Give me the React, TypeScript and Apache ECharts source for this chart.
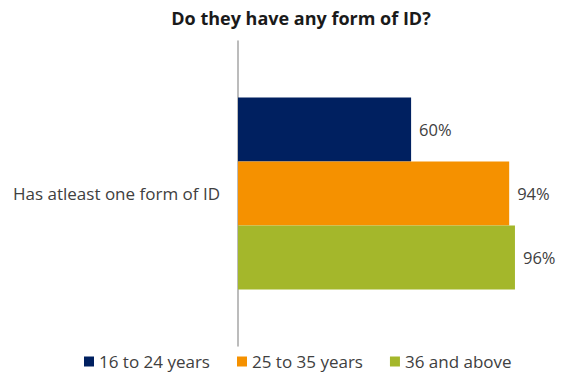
import React, { useEffect, useRef } from "react";
import * as echarts from "echarts";

const titleText = "Do they have any form of ID?";
const categories = ["Has atleast one form of ID"];
const seriesNames = ["16 to 24 years", "25 to 35 years", "36 and above"];
const values16to24 = [60];
const values25to35 = [94];
const values36plus = [96];
const seriesColors = ["#002060", "#F59100", "#A4B72B"];

const FONT = "'Open Sans', 'Noto Sans', sans-serif";

export default function App() {
  const ref = useRef<HTMLDivElement>(null);
  useEffect(() => {
    if (!ref.current) return;
    const chart = echarts.init(ref.current, undefined, { renderer: "svg" });
    const allValues = [values16to24, values25to35, values36plus];
    const series = seriesNames.map((name, i) => ({
      name,
      type: "bar" as const,
      data: allValues[i],
      barWidth: 64,
      barGap: "0%",
      itemStyle: { color: seriesColors[i] },
      label: {
        show: true,
        position: "right" as const,
        distance: 8,
        formatter: "{c}%",
        color: "#404040",
        fontSize: 16.5,
        fontFamily: FONT,
      },
    }));
    chart.setOption({
      animation: false,
      textStyle: { fontFamily: FONT },
      graphic: [
        {
          type: "text",
          x: 301,
          y: 18,
          style: {
            text: titleText,
            fill: "#1a1a1a",
            font: `bold 18px ${FONT}`,
            textAlign: "center",
            textVerticalAlign: "middle",
          },
        },
      ],
      legend: {
        data: seriesNames,
        left: 79,
        top: 348,
        icon: "rect",
        itemWidth: 10,
        itemHeight: 10,
        itemGap: 27,
        textStyle: { color: "#404040", fontSize: 17, fontFamily: FONT },
      },
      grid: { left: 238, right: 46.5, top: 41, bottom: 28, containLabel: false },
      xAxis: {
        type: "value",
        min: 0,
        max: 100,
        show: false,
      },
      yAxis: {
        type: "category",
        data: categories,
        inverse: true,
        axisLine: { show: true, lineStyle: { color: "#A6A6A6", width: 1.5 } },
        axisTick: { show: false },
        axisLabel: { color: "#404040", fontSize: 17, margin: 18, fontFamily: FONT },
      },
      series,
    });
    return () => chart.dispose();
  }, []);
  return (
    <div
      ref={ref}
      style={{ position: "fixed", left: 0, top: 0, width: 573, height: 374, background: "#fff" }}
    />
  );
}
